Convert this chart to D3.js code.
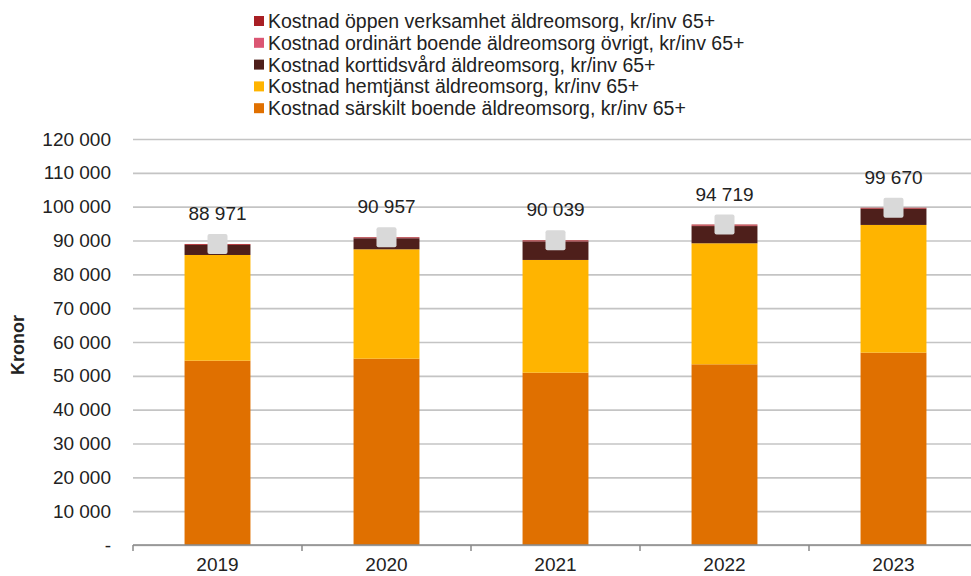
<!DOCTYPE html>
<html>
<head>
<meta charset="utf-8">
<script src="https://cdn.jsdelivr.net/npm/d3@7"></script>
<style>
  body { margin: 0; background: #fff; }
  svg { display: block; font-family: "Liberation Sans", Arial, sans-serif; }
</style>
</head>
<body>
<div id="chart"></div>
<script>
// data
var years = ["2019", "2020", "2021", "2022", "2023"]
var sarskiltBoende = [54480, 55070, 50930, 53410, 56850]
var hemtjanst = [31240, 32330, 33320, 35770, 37750]
var korttidsvard = [2951, 3277, 5479, 5089, 4770]
var ordinartOvrigt = [50, 80, 60, 150, 50]
var oppenVerksamhet = [250, 200, 250, 300, 250]
var totals = [88971, 90957, 90039, 94719, 99670]
var yTicks = [0, 10000, 20000, 30000, 40000, 50000, 60000, 70000, 80000, 90000, 100000, 110000, 120000]

// stacking order bottom -> top
var series = [
	{ key: "sarskilt", label: "Kostnad särskilt boende äldreomsorg, kr/inv 65+", values: sarskiltBoende, color: "#e07000" },
	{ key: "hemtjanst", label: "Kostnad hemtjänst äldreomsorg, kr/inv 65+", values: hemtjanst, color: "#ffb400" },
	{ key: "korttid", label: "Kostnad korttidsvård äldreomsorg, kr/inv 65+", values: korttidsvard, color: "#4e1f1b" },
	{ key: "ordinart", label: "Kostnad ordinärt boende äldreomsorg övrigt, kr/inv 65+", values: ordinartOvrigt, color: "#db5673" },
	{ key: "oppen", label: "Kostnad öppen verksamhet äldreomsorg, kr/inv 65+", values: oppenVerksamhet, color: "#a81f24" }
]

var table = years.map(function(y, i) {
	var row = { year: y, total: totals[i] }
	series.forEach(function(s) { row[s.key] = s.values[i] })
	return row
})

var width = 971, height = 576
var margin = { top: 139, right: 0, bottom: 31, left: 133 }
var plotW = 845
var plotH = height - margin.top - margin.bottom

var svg = d3.select("#chart").append("svg")
	.attr("width", width)
	.attr("height", height)

var x = d3.scaleBand().domain(years).range([0, plotW]).paddingInner(0.61).paddingOuter(0.305)
var y = d3.scaleLinear().domain([0, 120000]).range([plotH, 0])

var g = svg.append("g").attr("transform", "translate(" + margin.left + "," + margin.top + ")")

// grid + y labels
var yAxis = d3.axisLeft(y).tickValues(yTicks).tickSize(-plotW).tickPadding(22)
	.tickFormat(function(d) { return d === 0 ? "-" : d3.format(",")(d).replace(/,/g, " ") })

g.append("g").attr("class", "y grid").call(yAxis)
	.call(function(sel) {
		sel.select(".domain").remove()
		sel.selectAll(".tick line").attr("stroke", "#c4c4c4").attr("stroke-width", 1.6)
		sel.selectAll(".tick text").attr("fill", "#222").style("font-size", "19px")
	})

var stack = d3.stack().keys(series.map(function(s) { return s.key }))
var layers = stack(table)

g.selectAll(".layer")
	.data(layers)
	.enter().append("g")
	.attr("class", "layer")
	.attr("fill", function(d, i) { return series[i].color })
	.selectAll("rect")
	.data(function(d) { return d })
	.enter().append("rect")
	.attr("x", function(d) { return x(d.data.year) })
	.attr("y", function(d) { return y(d[1]) })
	.attr("width", x.bandwidth())
	.attr("height", function(d) { return y(d[0]) - y(d[1]) })

// x axis with ticks between categories
var step = x.step()
var xAxisG = g.append("g").attr("transform", "translate(0," + plotH + ")")
xAxisG.append("line").attr("x1", 0).attr("x2", plotW).attr("stroke", "#8a8a8a").attr("stroke-width", 1.5)
xAxisG.selectAll(".sep")
	.data(d3.range(years.length + 1))
	.enter().append("line")
	.attr("x1", function(i) { return i * step })
	.attr("x2", function(i) { return i * step })
	.attr("y1", 0).attr("y2", 6)
	.attr("stroke", "#8a8a8a").attr("stroke-width", 1.5)
xAxisG.selectAll(".cat")
	.data(years)
	.enter().append("text")
	.attr("x", function(d) { return x(d) + x.bandwidth() / 2 })
	.attr("y", 26)
	.attr("text-anchor", "middle")
	.attr("fill", "#222")
	.style("font-size", "19px")
	.text(function(d) { return d })

// total markers
g.selectAll(".marker")
	.data(table)
	.enter().append("rect")
	.attr("class", "marker")
	.attr("x", function(d) { return x(d.year) + x.bandwidth() / 2 - 10 })
	.attr("y", function(d) { return y(d.total) - 10 })
	.attr("width", 20).attr("height", 20)
	.attr("rx", 2)
	.attr("fill", "#d9d9d9")

g.selectAll(".total-label")
	.data(table)
	.enter().append("text")
	.attr("x", function(d) { return x(d.year) + x.bandwidth() / 2 })
	.attr("y", function(d) { return y(d.total) - 24 })
	.attr("text-anchor", "middle")
	.attr("fill", "#222")
	.style("font-size", "19px")
	.text(function(d) { return d3.format(",")(d.total).replace(/,/g, " ") })

// y title
svg.append("text")
	.attr("transform", "translate(24,345) rotate(-90)")
	.attr("text-anchor", "middle")
	.attr("fill", "#222")
	.style("font-size", "18px")
	.style("font-weight", "bold")
	.text("Kronor")

// legend, top entry is the top of the stack
var legendData = series.slice().reverse()
var legend = svg.append("g").attr("transform", "translate(254,21)")
var item = legend.selectAll(".item")
	.data(legendData)
	.enter().append("g")
	.attr("transform", function(d, i) { return "translate(0," + (i * 21.8) + ")" })
item.append("rect").attr("x", 0).attr("y", -5).attr("width", 10).attr("height", 10)
	.attr("fill", function(d) { return d.color })
item.append("text").attr("x", 14).attr("y", 7)
	.attr("fill", "#222")
	.style("font-size", "19.5px")
	.text(function(d) { return d.label })
</script>
</body>
</html>
